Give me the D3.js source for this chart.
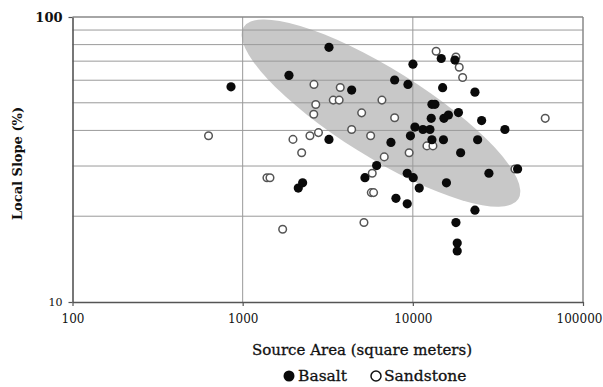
<!DOCTYPE html>
<html>
<head>
<meta charset="utf-8">
<script src="https://cdn.jsdelivr.net/npm/d3@7"></script>
<style>
  body { margin: 0; background: #fff; }
  text { font-family: "DejaVu Serif", "Liberation Serif", serif; fill: #111; }
</style>
</head>
<body>
<svg id="chart" width="603" height="387"></svg>
<script>
// tick / grid values
const xTicks = [100, 1000, 10000, 100000];
const yTicks = [10, 100];
const xGrid = [1000, 10000];
const yGrid = [20, 30, 40, 50, 60, 70, 80, 90];

// Basalt (filled)
const basaltArea = [854, 1871, 3215, 2122, 2251, 4370, 3215, 5231, 6129, 7435,
  7818, 7956, 9271, 9271, 10055, 10904, 9359, 10014, 9681, 10288,
  11463, 12600, 12948, 13484, 12826, 12948, 14685, 14968, 15131, 15233,
  16190, 15757, 17677, 18532, 19096, 17915, 18235, 18235, 23174, 24035,
  25367, 23174, 27995, 34762, 41285];
const basaltSlope = [56.9, 62.4, 78.3, 25.1, 26.2, 55.4, 37.2, 27.3, 30.1, 36.3,
  60.1, 23.1, 22.1, 28.3, 27.3, 25.1, 58.0, 68.3, 38.3, 41.1,
  40.3, 40.3, 49.4, 49.4, 44.1, 37.1, 71.5, 56.5, 37.1, 44.1,
  45.3, 26.2, 70.6, 46.2, 33.4, 19.0, 16.1, 15.1, 54.5, 37.1,
  43.3, 21.0, 28.3, 40.3, 29.3];

// Sandstone (open)
const sandstoneArea = [630, 1389, 1447, 1718, 1975, 2222, 2485, 2624, 2689, 2617,
  2789, 3407, 3690, 3745, 4370, 5003, 5650, 5773, 5700, 5880, 5161, 6583,
  6792, 7818, 9513, 12101, 13125, 13707, 17915, 18734, 19619, 59980, 39810];
const sandstoneSlope = [38.3, 27.3, 27.3, 18.0, 37.2, 33.4, 38.3, 58.0, 49.3, 45.6,
  39.3, 51.1, 51.1, 56.6, 40.3, 46.1, 38.3, 28.3, 24.2, 24.2, 19.0, 51.1,
  32.3, 44.3, 33.4, 35.3, 35.3, 75.8, 72.4, 66.6, 61.3, 44.1, 29.3];

// shaded envelope: ends of its long axis
const envelopeArea = [1012, 41690];
const envelopeSlope = [92.1, 23.0];

const svg = d3.select('#chart'),
  margin = {top: 17, right: 20, bottom: 85, left: 72.5},
  width = 603 - margin.left - margin.right,
  height = 387 - margin.top - margin.bottom,
  g = svg.append('g').attr('transform', 'translate(' + margin.left + ',' + margin.top + ')');

const x = d3.scaleLog().domain([100, 100000]).range([0, width]);
const y = d3.scaleLog().domain([10, 100]).range([height, 0]);

// envelope ellipse
const p0 = [x(envelopeArea[0]), y(envelopeSlope[0])];
const p1 = [x(envelopeArea[1]), y(envelopeSlope[1])];
const cx = (p0[0] + p1[0]) / 2, cy = (p0[1] + p1[1]) / 2;
const rx = Math.hypot(p1[0] - p0[0], p1[1] - p0[1]) / 2;
const angle = Math.atan2(p1[1] - p0[1], p1[0] - p0[0]) * 180 / Math.PI;
g.append('ellipse')
  .attr('cx', 0).attr('cy', 0)
  .attr('rx', rx).attr('ry', 44)
  .attr('transform', 'translate(' + cx + ',' + cy + ') rotate(' + angle + ')')
  .attr('fill', '#c8c8c8');

// grid
g.selectAll('.hgrid').data(yGrid).enter().append('line')
  .attr('x1', 0).attr('x2', width)
  .attr('y1', d => y(d)).attr('y2', d => y(d))
  .attr('stroke', '#9a9a9a').attr('stroke-width', 1);
g.selectAll('.vgrid').data(xGrid).enter().append('line')
  .attr('x1', d => x(d)).attr('x2', d => x(d))
  .attr('y1', 0).attr('y2', height)
  .attr('stroke', '#9a9a9a').attr('stroke-width', 1);

// frame top / right
g.append('line').attr('x1', 0).attr('x2', width).attr('y1', 0).attr('y2', 0)
  .attr('stroke', '#888').attr('stroke-width', 1.5);
g.append('line').attr('x1', width).attr('x2', width).attr('y1', 0).attr('y2', height)
  .attr('stroke', '#888').attr('stroke-width', 1.5);

// axes
const xAxis = g.append('g').attr('transform', 'translate(0,' + height + ')')
  .call(d3.axisBottom(x).tickValues(xTicks).tickFormat(d3.format('d')).tickSizeInner(4).tickSizeOuter(0).tickPadding(8));
const yAxis = g.append('g')
  .call(d3.axisLeft(y).tickValues(yTicks).tickFormat(d3.format('d')).tickSizeInner(4).tickSizeOuter(0).tickPadding(6));
[xAxis, yAxis].forEach(a => {
  a.select('.domain').attr('stroke', '#555').attr('stroke-width', 1.6);
  a.selectAll('.tick line').attr('stroke', '#555').attr('stroke-width', 1.2);
  a.selectAll('.tick text').attr('font-family', '"DejaVu Serif", serif').attr('fill', '#111');
});
xAxis.selectAll('.tick text').attr('font-size', 12)
  .attr('dx', d => d === 100000 ? -4 : 0);
yAxis.selectAll('.tick text')
  .attr('font-size', d => d === 100 ? 13 : 11)
  .attr('font-weight', d => d === 100 ? 'bold' : 'normal');

// points
g.selectAll('.sand').data(sandstoneArea).enter().append('circle')
  .attr('cx', d => x(d))
  .attr('cy', (d, i) => y(sandstoneSlope[i]))
  .attr('r', 3.8)
  .attr('fill', '#fff').attr('stroke', '#555').attr('stroke-width', 1.5);
g.selectAll('.basalt').data(basaltArea).enter().append('circle')
  .attr('cx', d => x(d))
  .attr('cy', (d, i) => y(basaltSlope[i]))
  .attr('r', 4.6)
  .attr('fill', '#0a0a0a');

// axis titles
svg.append('text')
  .attr('x', 362).attr('y', 355)
  .attr('text-anchor', 'middle').attr('font-size', 15)
  .attr('stroke', '#111').attr('stroke-width', 0.3)
  .text('Source Area (square meters)');
svg.append('text')
  .attr('transform', 'translate(22,' + (margin.top + height / 2 + 4) + ') rotate(-90)')
  .attr('text-anchor', 'middle').attr('font-size', 13).attr('font-weight', 'bold')
  .text('Local Slope (%)');

// legend
const legend = svg.append('g').attr('transform', 'translate(0,376)');
legend.append('circle').attr('cx', 289).attr('cy', 0).attr('r', 5.5).attr('fill', '#0a0a0a');
legend.append('text').attr('x', 298).attr('y', 5).attr('font-size', 15.5)
  .attr('stroke', '#111').attr('stroke-width', 0.3).text('Basalt');
legend.append('circle').attr('cx', 376).attr('cy', 0).attr('r', 5).attr('fill', '#fff')
  .attr('stroke', '#111').attr('stroke-width', 1.5);
legend.append('text').attr('x', 384).attr('y', 5).attr('font-size', 15.5)
  .attr('stroke', '#111').attr('stroke-width', 0.3).text('Sandstone');
</script>
</body>
</html>
